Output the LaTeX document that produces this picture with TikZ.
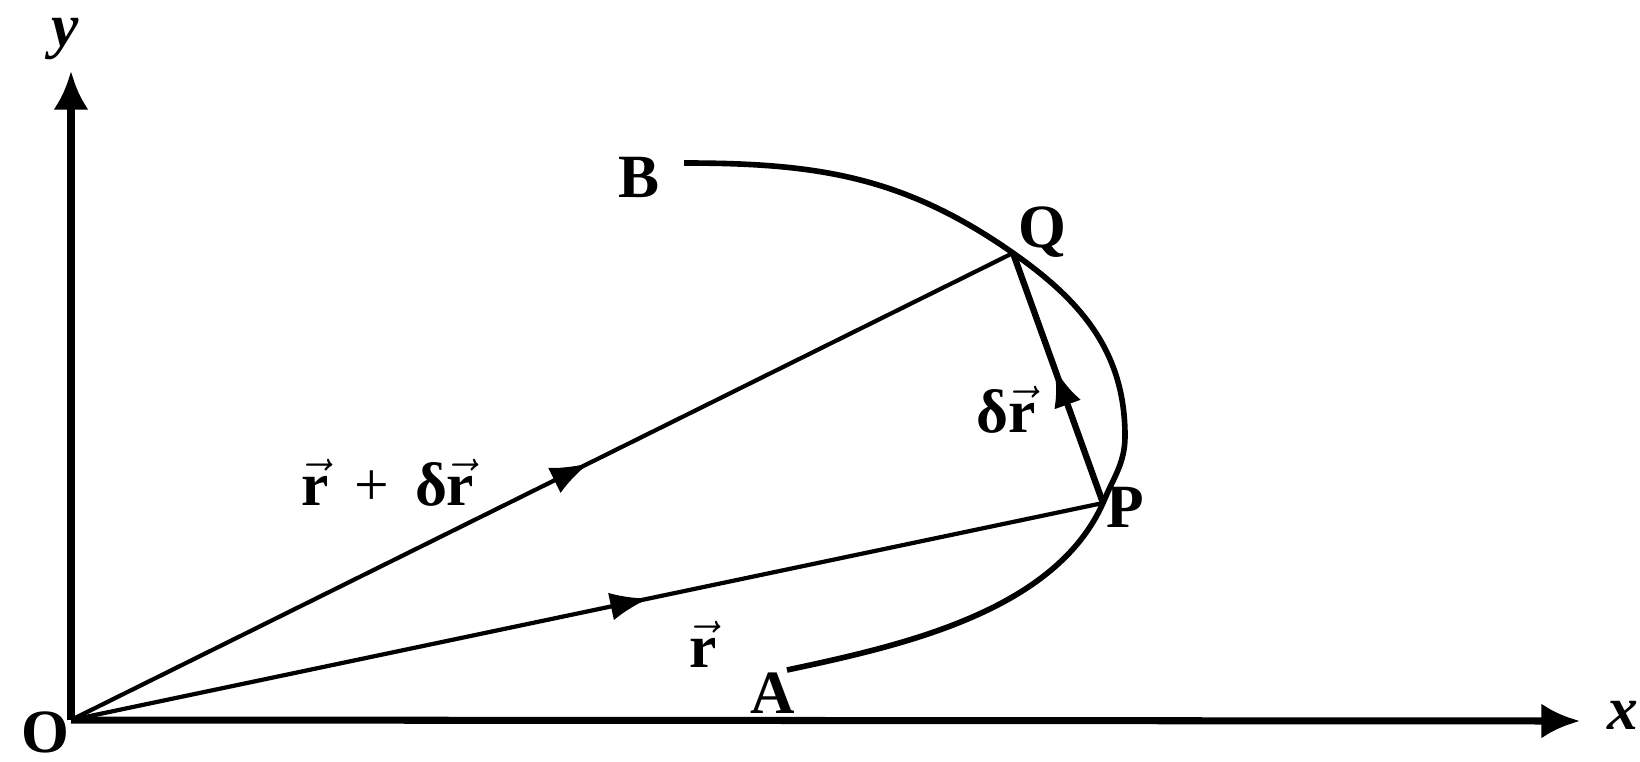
\documentclass[tikz,border=0pt]{standalone}
\usepackage{fontspec}
\setmainfont{Liberation Serif}
\usetikzlibrary{arrows.meta,positioning,calc,decorations.markings}

\newcommand{\vr}{$\vec{\textbf{r}}$}

\begin{document}
\begin{tikzpicture}[x=1cm,y=1cm,
  font=\fontsize{17.5}{19}\selectfont\bfseries,
  axis/.style={line width=2pt,-{Latex[length=11pt,width=10pt]}},
  ray/.style={line width=1.2pt},
  chord/.style={line width=1.8pt},
  pathline/.style={line width=1.6pt},
  midarrow/.style={postaction={decorate},decoration={markings,
    mark=at position #1 with {\arrow{Latex[length=11pt,width=8pt]}}}},
  lbl/.style={inner sep=1pt}]
  \useasboundingbox (0,0) rectangle (16.40,7.61);
  % points
  \coordinate (O) at (0.71,0.41);
  \coordinate (ytip) at (0.71,6.90);
  \coordinate (xtip) at (15.80,0.40);
  \coordinate (Q) at (10.13,5.08);
  \coordinate (P) at (11.03,2.58);
  \coordinate (R) at (11.25,3.25);
  \coordinate (Bend) at (6.84,5.98);
  \coordinate (Aend) at (7.87,0.91);
  % axes
  \draw[axis] (O) -- (ytip);
  \draw[axis] (O) -- (xtip);
  % path from A to B
  \draw[pathline] (Bend) to[out=0,in=145] (Q) to[out=-35,in=90] (R)
    to[out=-90,in=68] (P) to[out=-114,in=12,looseness=0.85] (Aend);
  % position vectors
  \draw[ray,midarrow=0.55] (O) -- (Q);
  \draw[ray,midarrow=0.56] (O) -- (P);
  \draw[chord,midarrow=0.54] (P) -- (Q);
  % labels
  \node[lbl] (ylab) at (0.65,7.22) {\itshape y};
  \node[lbl] (olab) at (0.45,0.29) {O};
  \node[lbl,anchor=west] (xlab) at (16.03,0.46) {\itshape x};
  \node[lbl] (blab) at (6.39,5.84) {B};
  \node[lbl] (qlab) at (10.42,5.29) {Q};
  \node[lbl] (plab) at (11.25,2.54) {P};
  \node[lbl] (alab) at (7.73,0.68) {A};
  \node[lbl] (drlab) at (10.06,3.51) {δ\vr};
  \node[lbl] (rdrlab) at (3.88,2.78) {\vr\,\ {\mdseries +}\,\ δ\vr};
  \node[lbl] (rlab) at (7.03,1.17) {\vr};
\end{tikzpicture}
\end{document}
